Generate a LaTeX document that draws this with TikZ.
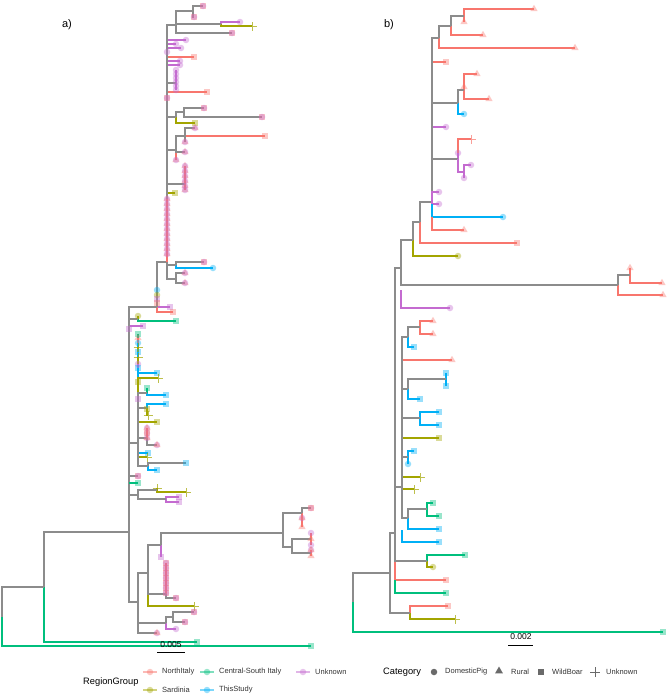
\documentclass[tikz,border=0pt]{standalone}
\usepackage{fontspec}
\setmainfont{Liberation Sans}
\usetikzlibrary{shapes.geometric}
\pgfdeclarelayer{cl}
\pgfdeclarelayer{bg}
\pgfdeclarelayer{mid}
\pgfsetlayers{cl,bg,mid,main}
\definecolor{cR}{HTML}{F8766D}
\definecolor{cG}{HTML}{00BF7D}
\definecolor{cB}{HTML}{00B0F6}
\definecolor{cO}{HTML}{A3A500}
\definecolor{cP}{HTML}{C46BD0}
\definecolor{gy}{HTML}{8C8C8C}
\definecolor{lk}{HTML}{6A6A6A}
\tikzset{
 br/.style={line width=1.1pt},
 mS/.style={rectangle,minimum size=6.5pt,inner sep=0pt,draw=none,fill opacity=.4},
 mC/.style={circle,minimum size=6.5pt,inner sep=0pt,draw=none,fill opacity=.4},
 mT/.style={regular polygon,regular polygon sides=3,minimum size=8.5pt,inner sep=0pt,draw=none,fill opacity=.4},
 mP/.style={line width=.6pt,draw opacity=.7},
 lt/.style={anchor=west,inner sep=0pt,font=\fontsize{7.5}{9}\selectfont,text=black!80},
 ltt/.style={anchor=west,inner sep=0pt,font=\fontsize{9.3}{11}\selectfont},
}
% internal node: edge drawn from parent (rectangular), on the grey layer
\newcommand\bnode[5]{\coordinate (#1) at (#2,#3);\begin{pgfonlayer}{bg}\draw[br,#4] (#5) |- (#1);\end{pgfonlayer}}
% grey tip
\newcommand\gtip[5]{\bnode{#1}{#2}{#3}{gy}{#4}\def\cur{#1}#5}
% coloured tip: #6 empty = full edge under the grey ones; otherwise vertical part starts at y=#6, above grey
\newcommand\btip[7]{\coordinate (#1) at (#2,#3)%
 ;\if\relax\detokenize{#6}\relax
   \begin{pgfonlayer}{cl}\draw[br,#4] (#5) |- (#1);\end{pgfonlayer}%
 \else
   \coordinate (tmpf) at (0,#6);%
   \begin{pgfonlayer}{mid}\draw[br,#4] (#5 |- tmpf) -- (#5 |- #1) -- (#1);\end{pgfonlayer}%
 \fi
 \def\cur{#1}#7}
\newcommand\Sq[1]{\node[mS,fill=#1] at (\cur) {};}
\newcommand\Ci[1]{\node[mC,fill=#1] at (\cur) {};}
\newcommand\Tr[1]{\node[mT,fill=#1] at (\cur) {};}
\newcommand\Pl[1]{\draw[mP,#1] ([xshift=-4.5pt]\cur) -- ([xshift=4.5pt]\cur) ([yshift=-4.5pt]\cur) -- ([yshift=4.5pt]\cur);}
\begin{document}
\begin{tikzpicture}[x=1pt,y=-1pt]
\useasboundingbox (0,0) rectangle (669,696);
\node[font=\fontsize{11}{13}\selectfont] (la) at (67,25) {a)};
\node[font=\fontsize{11}{13}\selectfont] (lb) at (389,25) {b)};
% ================= panel a =================
\coordinate (ar) at (2,617);
\bnode{a1}{44}{587}{gy}{ar}
\btip{ta0}{311}{646}{cG}{ar}{}{\Sq{cG}}
\btip{ta00}{197}{642}{cG}{a1}{}{\Sq{cG}}
\bnode{a2}{129}{532}{gy}{a1}
\bnode{a3}{157}{307}{gy}{a2}
\bnode{a4}{167}{262}{gy}{a3}
% top clade
\bnode{a6}{176}{25}{gy}{a4}
\bnode{a7}{193}{11}{gy}{a6}
\gtip{t1}{203}{6}{a7}{\Sq{cR}\Ci{cP}}
\gtip{t2}{194}{17}{a7}{\Sq{cR}\Ci{cP}}
\bnode{a8}{221}{24}{gy}{a6}
\btip{t3}{240}{22}{cP}{a8}{}{\Ci{cP}}
\btip{t4}{252}{26}{cO}{a8}{}{\Pl{cO}}
\gtip{t5}{232}{33}{a6}{\Sq{cR}\Ci{cP}}
\btip{t6}{186}{40}{cP}{a4}{}{\Ci{cP}}
\btip{t7}{176}{44}{cP}{a4}{}{\Ci{cP}}
\btip{t8}{181}{48}{cP}{a4}{}{\Ci{cP}}
\btip{t9}{167}{52}{cP}{a4}{}{\Ci{cP}}
\btip{t10}{194}{57}{cR}{a4}{}{\Sq{cR}}
\btip{t11}{180}{61}{cP}{a4}{}{\Ci{cP}}
\btip{t12}{180}{65}{cP}{a4}{}{\Ci{cP}}
\bnode{a9}{176}{83}{gy}{a4}
\foreach \yy [count=\i] in {70,74,78,82,86,90}{\btip{c9-\i}{176}{\yy}{cP}{a9}{}{\Ci{cP}}}
\btip{t19}{207}{92}{cR}{a4}{}{\Sq{cR}}
\btip{t20}{167}{98}{cR}{a4}{}{\Sq{cR}\Ci{cP}}
\bnode{a10}{176}{117}{gy}{a4}
\bnode{a11}{184}{112}{gy}{a10}
\gtip{t21}{204}{108}{a11}{\Sq{cR}\Ci{cP}}
\gtip{t22}{262}{117}{a11}{\Sq{cR}\Ci{cP}}
\btip{t23}{195}{123}{cO}{a10}{}{\Sq{cO}}
\bnode{a12}{176}{150}{gy}{a4}
\bnode{a13}{185}{136}{gy}{a12}
\gtip{t24}{195}{128}{a13}{\Tr{cR}\Ci{cP}}
\btip{t25}{265}{136}{cR}{a13}{}{\Sq{cR}}
\gtip{t26}{185}{142}{a13}{\Tr{cR}\Ci{cP}}
\gtip{t27}{185}{152}{a12}{\Tr{cR}\Ci{cP}}
\btip{t28}{176}{160}{cR}{a12}{}{\Tr{cR}\Ci{cP}}
\bnode{a14}{185}{184}{gy}{a4}
\foreach \yy [count=\i] in {166,171,176,181,186,190}{\btip{c14-\i}{185}{\yy}{cR}{a14}{}{\Tr{cR}\Ci{cP}}}
\btip{t35}{175}{193}{cO}{a4}{}{\Sq{cO}}
\foreach \yy [count=\i] in {199,204,209,214,219,224,229,234,239,244,249,254}{\btip{c4-\i}{167}{\yy}{cR}{a4}{262}{\Tr{cR}\Ci{cP}}}
\bnode{a5}{176}{265}{gy}{a4}
\gtip{t48}{204}{262}{a5}{\Sq{cR}\Ci{cP}}
\btip{t49}{213}{268}{cB}{a5}{}{\Ci{cB}}
\bnode{a16}{176}{279}{gy}{a4}
\gtip{t50}{185}{273}{a16}{\Tr{cR}\Ci{cP}}
\gtip{t51}{185}{283}{a16}{\Tr{cR}\Ci{cP}}
\btip{t52}{157}{290}{cB}{a3}{}{\Ci{cB}}
\btip{t53}{157}{295}{cO}{a3}{}{\Ci{cO}}
\btip{t54}{157}{299}{cP}{a3}{}{\Sq{cP}}
\btip{t55}{157}{303}{cR}{a3}{}{\Sq{cR}}
\btip{t56}{170}{307}{cP}{a3}{}{\Sq{cP}}
\btip{t57}{173}{312}{cR}{a3}{}{\Sq{cR}}
% middle
\bnode{a17}{138}{319}{gy}{a2}
\btip{t58}{138}{316}{cO}{a17}{}{\Ci{cO}}
\btip{t59}{176}{321}{cG}{a17}{}{\Sq{cG}}
\btip{t60}{143}{326}{cP}{a2}{}{\Sq{cP}}
\btip{t61}{129}{329}{cP}{a2}{}{\Sq{cP}}
\bnode{a18}{138}{443}{gy}{a2}
\btip{t62}{138}{334}{cG}{a18}{}{\Sq{cG}}
\btip{t63}{138}{338}{cR}{a18}{}{\Tr{cR}}
\btip{t64}{138}{343}{cB}{a18}{}{\Ci{cB}}
\btip{t65}{138}{347}{cO}{a18}{}{\Pl{cO}}
\btip{t66}{138}{352}{cB}{a18}{}{\Sq{cB}}
\btip{t67}{138}{357}{cO}{a18}{}{\Pl{cO}}
\btip{t68}{138}{364}{cP}{a18}{}{\Ci{cP}}
\btip{t69}{138}{368}{cB}{a18}{}{\Sq{cB}}
\btip{t70}{157}{373}{cB}{a18}{}{\Sq{cB}}
\btip{t71}{158}{378}{cO}{a18}{}{\Pl{cO}}
\btip{t72}{138}{382}{cO}{a18}{}{\Sq{cO}}
\bnode{a19}{147}{393}{gy}{a18}
\btip{t73}{147}{388}{cG}{a19}{}{\Sq{cG}}
\btip{t74}{166}{395}{cB}{a19}{}{\Sq{cB}}
\btip{t75}{138}{399}{cP}{a18}{}{\Sq{cP}}
\bnode{a20}{147}{408}{gy}{a18}
\btip{t76}{166}{404}{cB}{a20}{}{\Sq{cB}}
\btip{t77}{147}{409}{cO}{a20}{}{\Sq{cO}}
\btip{t78}{148}{415}{cO}{a20}{}{\Pl{cO}}
\btip{t79}{157}{422}{cO}{a18}{}{\Sq{cO}}
\bnode{a21}{147}{438}{gy}{a18}
\btip{t80}{147}{428}{cR}{a21}{}{\Ci{cP}\Tr{cR}}
\btip{t81}{147}{433}{cR}{a21}{}{\Ci{cP}\Sq{cR}}
\btip{t82}{147}{438}{cR}{a21}{}{\Ci{cP}\Tr{cR}}
\gtip{t83}{157}{445}{a21}{\Ci{cP}\Tr{cR}}
\btip{t84}{148}{453}{cB}{a18}{}{\Sq{cB}}
\btip{t85}{147}{457}{cO}{a18}{}{\Pl{cO}}
\bnode{a23}{148}{466}{gy}{a18}
\gtip{t86}{186}{463}{a23}{\Sq{cB}}
\btip{t87}{157}{470}{cB}{a23}{}{\Sq{cB}}
\gtip{t88}{138}{476}{a2}{\Sq{cR}\Ci{cP}}
\btip{t89}{138}{483}{cG}{a2}{483}{\Sq{cG}}
\bnode{a24}{138}{495}{gy}{a2}
\bnode{a25}{157}{490}{gy}{a24}
\btip{t90}{157}{488}{cO}{a25}{}{\Pl{cO}}
\btip{t91}{186}{492}{cO}{a25}{}{\Pl{cO}}
\bnode{a26}{166}{499}{gy}{a24}
\btip{t92}{179}{497}{cP}{a26}{}{\Sq{cP}}
\btip{t93}{179}{502}{cP}{a26}{}{\Sq{cP}}
% lower
\bnode{a30}{138}{602}{gy}{a2}
\bnode{a29}{148}{573}{gy}{a30}
\bnode{a27}{161}{545}{gy}{a29}
\bnode{a28}{283}{533}{gy}{a27}
\btip{t94}{161}{557}{cP}{a27}{}{\Sq{cP}}
\bnode{a31}{166}{594}{gy}{a29}
\foreach \yy [count=\i] in {563,568,573,578,583,588,593}{\btip{c31-\i}{166}{\yy}{cR}{a31}{}{\Sq{cR}\Ci{cP}}}
\gtip{t95}{176}{598}{a31}{\Sq{cR}\Ci{cP}}
\btip{t96}{194}{606}{cO}{a29}{}{\Pl{cO}}
\bnode{a32}{166}{623}{gy}{a30}
\bnode{a33}{173}{617}{gy}{a32}
\gtip{t97}{194}{612}{a33}{\Sq{cR}\Ci{cP}}
\gtip{t98}{185}{622}{a33}{\Sq{cR}\Ci{cP}}
\btip{t99}{176}{629}{cP}{a32}{}{\Ci{cP}}
\gtip{t100}{157}{633}{a30}{\Ci{cP}\Tr{cR}}
\bnode{a34}{302}{513}{gy}{a28}
\gtip{t101}{311}{508}{a34}{\Ci{cP}\Sq{cR}}
\btip{t102}{302}{518}{cR}{a34}{}{\Ci{cP}\Tr{cR}}
\btip{t103}{302}{527}{cR}{a34}{}{\Tr{cR}}
\bnode{a35}{292}{547}{gy}{a28}
\bnode{a36}{311}{539}{gy}{a35}
\btip{t104}{311}{533}{cR}{a36}{}{\Ci{cP}}
\btip{t105}{311}{539}{cR}{a36}{}{\Tr{cR}}
\btip{t106}{311}{545}{cR}{a36}{}{\Ci{cP}}
\bnode{a37}{311}{553}{gy}{a35}
\btip{t107}{311}{550}{cR}{a37}{}{\Ci{cP}\Tr{cR}}
\btip{t108}{311}{556}{cR}{a37}{}{\Tr{cR}}
% scale a
\coordinate (sa1) at (157,652); \coordinate (sa2) at (185,652);
\draw[line width=.9pt] (sa1) -- (sa2);
\node[font=\fontsize{8.5}{10}\selectfont] (sat) at (171,645) {0.005};
% ================= panel b =================
\coordinate (bro) at (353,602);
\bnode{b1}{390}{573}{gy}{bro}
\btip{u1}{663}{632}{cG}{bro}{}{\Sq{cG}}
\bnode{b3}{410}{613}{gy}{b1}
\btip{u2}{448}{606}{cR}{b3}{}{\Sq{cR}}
\btip{u3}{455}{619}{cO}{b3}{}{\Pl{cO}}
\bnode{b2}{395}{533}{gy}{b1}
\bnode{b4}{401}{268}{gy}{b2}
\bnode{b5}{413}{240}{gy}{b4}
\bnode{b7}{420}{222}{gy}{b5}
\bnode{b8}{432}{202}{gy}{b7}
\bnode{b9}{439}{38}{gy}{b8}
\bnode{b12}{451}{26}{gy}{b9}
\bnode{b13}{464}{16}{gy}{b12}
\btip{u4}{534}{9}{cR}{b13}{}{\Tr{cR}}
\btip{u5}{464}{22}{cR}{b13}{}{\Tr{cR}}
\btip{u6}{483}{35}{cR}{b12}{}{\Tr{cR}}
\btip{u7}{575}{48}{cR}{b9}{}{\Tr{cR}}
\btip{u8}{446}{62}{cR}{b8}{}{\Sq{cR}}
\bnode{b10}{458}{103}{gy}{b8}
\bnode{b14}{464}{90}{gy}{b10}
\btip{u9}{477}{74}{cR}{b14}{}{\Tr{cR}}
\btip{u10}{464}{87}{cR}{b14}{}{\Tr{cR}}
\btip{u11}{489}{99}{cR}{b14}{}{\Tr{cR}}
\btip{u12}{464}{114}{cB}{b10}{}{\Ci{cB}}
\btip{u13}{446}{127}{cP}{b8}{}{\Ci{cP}}
\bnode{b11}{458}{159}{gy}{b8}
\btip{u14}{471}{139}{cR}{b11}{}{\Pl{cR}}
\btip{u15}{458}{153}{cP}{b11}{}{\Ci{cP}}
\bnode{b15}{464}{172}{cP}{b11}
\btip{u16}{471}{165}{cP}{b15}{}{\Ci{cP}}
\btip{u17}{464}{178}{cP}{b15}{}{\Ci{cP}}
\btip{u18}{439}{192}{cP}{b8}{202}{\Ci{cP}}
\btip{u19}{439}{204}{cP}{b8}{202}{\Ci{cP}}
\btip{u20}{503}{217}{cB}{b8}{204}{\Ci{cB}}
\btip{u21}{464}{230}{cR}{b8}{217}{\Tr{cR}}
\btip{u22}{517}{243}{cR}{b7}{}{\Sq{cR}}
\btip{u23}{458}{256}{cO}{b5}{}{\Ci{cO}}
\bnode{b6}{618}{285}{gy}{b4}
\bnode{b16}{630}{275}{gy}{b6}
\btip{u24}{630}{268}{cR}{b16}{}{\Tr{cR}}
\btip{u25}{662}{283}{cR}{b16}{}{\Tr{cR}}
\btip{u26}{663}{295}{cR}{b6}{}{\Tr{cR}}
\btip{u27}{450}{308}{cP}{b4}{290}{\Ci{cP}}
\bnode{b17}{402}{487}{gy}{b2}
\bnode{b18}{408}{337}{gy}{b17}
\bnode{b19}{420}{327}{gy}{b18}
\btip{u28}{433}{321}{cR}{b19}{}{\Tr{cR}}
\btip{u29}{433}{334}{cR}{b19}{}{\Tr{cR}}
\btip{u30}{414}{347}{cB}{b18}{}{\Sq{cB}}
\btip{u31}{452}{360}{cR}{b17}{}{\Tr{cR}}
\bnode{b20}{408}{389}{gy}{b17}
\bnode{b21}{446}{379}{gy}{b20}
\btip{u32}{446}{373}{cB}{b21}{}{\Sq{cB}}
\btip{u33}{446}{386}{cB}{b21}{}{\Sq{cB}}
\btip{u34}{420}{399}{cB}{b20}{}{\Sq{cB}}
\bnode{b22}{420}{418}{gy}{b17}
\btip{u35}{439}{412}{cB}{b22}{}{\Sq{cB}}
\btip{u36}{439}{425}{cB}{b22}{}{\Sq{cB}}
\btip{u37}{439}{438}{cO}{b17}{}{\Sq{cO}}
\bnode{b23}{408}{457}{gy}{b17}
\btip{u38}{414}{451}{cB}{b23}{}{\Sq{cB}}
\btip{u39}{408}{464}{cB}{b23}{}{\Ci{cB}}
\btip{u40}{420}{477}{cO}{b17}{}{\Pl{cO}}
\btip{u41}{414}{489}{cO}{b17}{}{\Pl{cO}}
\bnode{b24}{408}{518}{gy}{b17}
\bnode{b25}{427}{509}{gy}{b24}
\btip{u42}{433}{503}{cG}{b25}{}{\Sq{cG}}
\btip{u43}{439}{516}{cG}{b25}{}{\Sq{cG}}
\btip{u44}{439}{529}{cB}{b24}{}{\Sq{cB}}
\btip{u45}{439}{542}{cB}{b17}{530}{\Sq{cB}}
\bnode{b26}{427}{561}{gy}{b2}
\btip{u46}{465}{555}{cG}{b26}{}{\Sq{cG}}
\btip{u47}{433}{567}{cO}{b26}{}{\Ci{cO}}
\btip{u48}{446}{580}{cR}{b2}{}{\Sq{cR}}
\btip{u49}{446}{593}{cG}{b2}{580}{\Sq{cG}}
% scale b
\coordinate (sb1) at (508,645); \coordinate (sb2) at (533,645);
\draw[line width=.9pt] (sb1) -- (sb2);
\node[font=\fontsize{8.5}{10}\selectfont] (sbt) at (521,637) {0.002};
% ================= legends =================
\node[ltt] (rg) at (83,682) {RegionGroup};
\foreach \xx/\yy/\cc/\tt [count=\i] in {150/672/cR/NorthItaly,207/672/cG/Central-South Italy,303/672/cP/Unknown,150/690/cO/Sardinia,207/690/cB/ThisStudy}{
  \coordinate (k\i) at (\xx,\yy);
  \draw[\cc,line width=1.1pt,draw opacity=.5] ([xshift=-7pt]k\i) -- ([xshift=7pt]k\i);
  \node[mC,fill=\cc] at (k\i) {};
  \node[lt] at ([xshift=12pt]k\i) {\tt};
}
\node[ltt] (cat) at (383,672) {Category};
\coordinate (q1) at (434,672); \coordinate (q2) at (499,671); \coordinate (q3) at (541,672); \coordinate (q4) at (595,672);
\node[circle,minimum size=6.5pt,inner sep=0pt,fill=lk] at (q1) {};
\node[regular polygon,regular polygon sides=3,minimum size=9pt,inner sep=0pt,fill=lk] at (q2) {};
\node[rectangle,minimum size=6pt,inner sep=0pt,fill=lk] at (q3) {};
\draw[lk,line width=.6pt] ([xshift=-5pt]q4) -- ([xshift=5pt]q4) ([yshift=-5pt]q4) -- ([yshift=5pt]q4);
\node[lt] at (445,672) {DomesticPig};
\node[lt] at (511,672) {Rural};
\node[lt] at (552,672) {WildBoar};
\node[lt] at (606,672) {Unknown};
\end{tikzpicture}
\end{document}
